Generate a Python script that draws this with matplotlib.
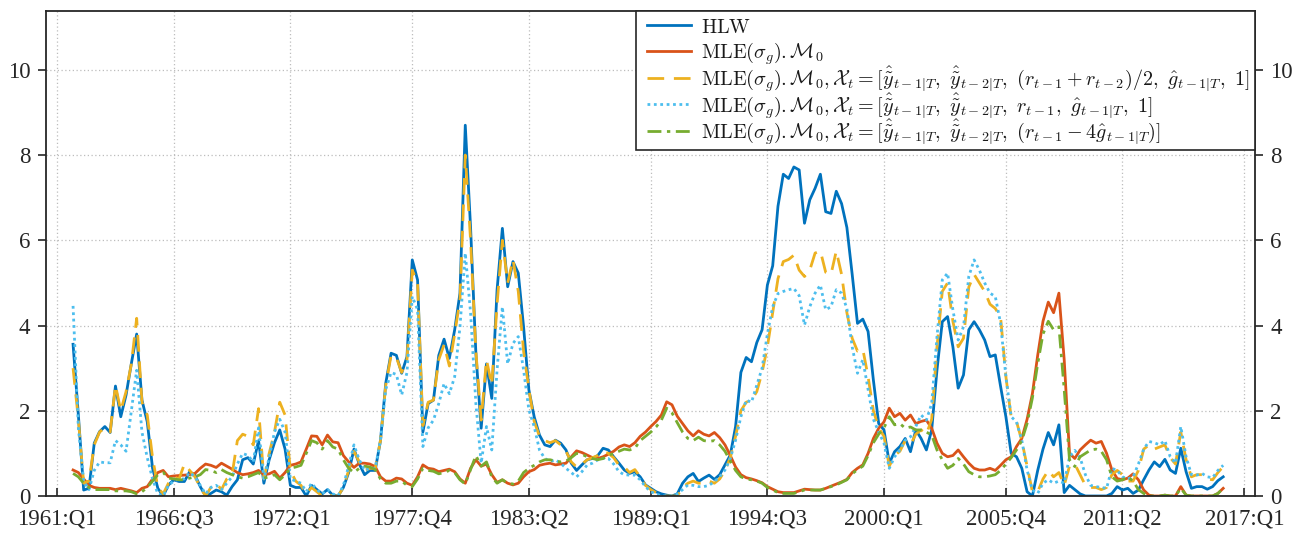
import numpy as np
import matplotlib
matplotlib.use("Agg")
import matplotlib.pyplot as plt
from matplotlib.lines import Line2D
from matplotlib.patches import Rectangle

# quarter index 0 = 1961:Q1 ; data run from 1961:Q4 (idx 3) to 2016:Q1 (idx 220)
start_idx = 3

tick_labels = ["1961:Q1", "1966:Q3", "1972:Q1", "1977:Q4", "1983:Q2", "1989:Q1",
               "1994:Q3", "2000:Q1", "2005:Q4", "2011:Q2", "2017:Q1"]
tick_pos = [0, 22, 44, 67, 89, 112, 134, 156, 179, 201, 224]

hlw = [
    3.56, 1.9, 0.14, 0.18, 1.24, 1.51, 1.63, 1.49, 2.58, 1.86,
    2.37, 3.11, 3.8, 2.25, 1.74, 0.65, 0.18, 0.0, 0.26, 0.38,
    0.34, 0.34, 0.57, 0.49, 0.22, 0.0, 0.06, 0.14, 0.1, 0.02,
    0.22, 0.38, 0.85, 0.9, 0.75, 1.3, 0.3, 0.85, 1.25, 1.55,
    1.1, 0.25, 0.2, 0.2, 0.0, 0.25, 0.15, 0.05, 0.15, 0.02,
    0.0, 0.2, 0.55, 1.1, 0.75, 0.5, 0.6, 0.6, 1.3, 2.65,
    3.35, 3.3, 2.88, 3.27, 5.54, 5.07, 1.5, 2.17, 2.25, 3.3,
    3.68, 3.23, 3.9, 4.76, 8.7, 6.3, 3.35, 1.59, 3.1, 2.29,
    4.84, 6.28, 4.91, 5.5, 5.23, 3.97, 2.49, 1.86, 1.43, 1.2,
    1.16, 1.31, 1.24, 1.08, 0.77, 0.6, 0.73, 0.85, 0.88, 0.95,
    1.12, 1.08, 0.92, 0.77, 0.61, 0.53, 0.57, 0.45, 0.26, 0.18,
    0.1, 0.05, 0.02, 0.0, 0.05, 0.3, 0.45, 0.53, 0.34, 0.42,
    0.49, 0.39, 0.5, 0.73, 0.96, 1.63, 2.9, 3.25, 3.15, 3.6,
    3.9, 4.95, 5.4, 6.8, 7.55, 7.45, 7.72, 7.65, 6.4, 6.95,
    7.22, 7.55, 6.67, 6.63, 7.15, 6.86, 6.3, 5.2, 4.05, 4.15,
    3.86, 2.72, 1.7, 1.55, 0.77, 1.04, 1.16, 1.35, 1.04, 1.55,
    1.35, 1.08, 1.55, 2.96, 4.09, 4.21, 3.5, 2.53, 2.84, 3.9,
    4.09, 3.9, 3.66, 3.27, 3.31, 2.57, 1.86, 1.0, 0.92, 0.65,
    0.1, 0.0, 0.6, 1.1, 1.49, 1.2, 1.67, 0.08, 0.25, 0.15,
    0.05, 0.0, 0.0, 0.0, 0.0, 0.0, 0.06, 0.22, 0.14, 0.18,
    0.06, 0.14, 0.38, 0.61, 0.8, 0.69, 0.86, 0.61, 0.53, 1.12,
    0.57, 0.18, 0.22, 0.22, 0.16, 0.22, 0.36, 0.45,
]

mle_m0 = [
    0.61, 0.55, 0.4, 0.25, 0.2, 0.18, 0.18, 0.18, 0.15, 0.18,
    0.15, 0.12, 0.08, 0.18, 0.22, 0.4, 0.55, 0.6, 0.45, 0.47,
    0.48, 0.49, 0.5, 0.53, 0.65, 0.75, 0.72, 0.67, 0.77, 0.7,
    0.63, 0.55, 0.5, 0.52, 0.55, 0.6, 0.5, 0.52, 0.58, 0.42,
    0.55, 0.72, 0.75, 0.8, 1.1, 1.41, 1.4, 1.2, 1.43, 1.27,
    1.25, 0.95, 0.8, 0.67, 0.77, 0.77, 0.75, 0.69, 0.45, 0.35,
    0.35, 0.42, 0.4, 0.3, 0.25, 0.45, 0.73, 0.65, 0.63, 0.57,
    0.6, 0.63, 0.57, 0.4, 0.3, 0.65, 0.85, 0.7, 0.75, 0.5,
    0.32, 0.38, 0.3, 0.26, 0.3, 0.45, 0.57, 0.62, 0.72, 0.75,
    0.77, 0.73, 0.75, 0.77, 0.92, 1.06, 1.02, 0.96, 0.9, 0.88,
    0.92, 0.98, 1.05, 1.15, 1.2, 1.16, 1.25, 1.4, 1.5, 1.63,
    1.75, 1.9, 2.21, 2.14, 1.87, 1.7, 1.53, 1.41, 1.53, 1.45,
    1.41, 1.49, 1.37, 1.2, 0.95, 0.68, 0.5, 0.43, 0.4, 0.36,
    0.31, 0.22, 0.16, 0.1, 0.08, 0.08, 0.08, 0.12, 0.16, 0.15,
    0.14, 0.14, 0.18, 0.23, 0.28, 0.33, 0.39, 0.55, 0.65, 0.73,
    1.0, 1.35, 1.59, 1.74, 2.06, 1.86, 1.94, 1.78, 1.9, 1.7,
    1.75, 1.78, 1.59, 1.24, 1.0, 0.92, 0.95, 1.08, 0.92, 0.77,
    0.65, 0.61, 0.61, 0.65, 0.6, 0.72, 0.85, 0.92, 1.16, 1.35,
    1.8, 2.4, 3.3, 4.1, 4.55, 4.3, 4.76, 3.2, 1.0, 0.88,
    1.08, 1.2, 1.31, 1.24, 1.28, 1.0, 0.61, 0.41, 0.38, 0.42,
    0.52, 0.38, 0.14, 0.02, 0.0, 0.0, 0.02, 0.0, 0.0, 0.22,
    0.02, 0.0, 0.0, 0.0, 0.0, 0.0, 0.06, 0.18,
]

mle_x_avg = [
    3.0, 1.8, 0.3, 0.35, 1.2, 1.5, 1.6, 1.5, 2.6, 2.0,
    2.45, 3.1, 4.17, 2.2, 1.9, 0.9, 0.2, 0.05, 0.3, 0.45,
    0.4, 0.75, 0.6, 0.45, 0.2, 0.0, 0.2, 0.3, 0.15, 0.4,
    0.5, 1.3, 1.45, 1.4, 1.2, 2.05, 0.4, 1.0, 1.5, 2.2,
    1.9, 0.6, 0.35, 0.25, 0.05, 0.2, 0.1, 0.0, 0.05, 0.0,
    0.0, 0.2, 0.6, 1.05, 0.8, 0.6, 0.65, 0.65, 1.3, 2.6,
    3.3, 3.25, 2.9, 3.2, 5.3, 5.0, 1.65, 2.2, 2.25, 3.2,
    3.55, 3.05, 3.8, 4.6, 8.0, 6.0, 3.4, 1.78, 3.2, 2.6,
    4.5, 6.0, 5.0, 5.55, 4.8, 3.4, 2.5, 1.75, 1.4, 1.3,
    1.25, 1.3, 1.2, 1.05, 0.8, 0.68, 0.75, 0.85, 0.9, 0.95,
    1.05, 1.0, 0.9, 0.72, 0.68, 0.55, 0.62, 0.45, 0.25, 0.15,
    0.08, 0.0, 0.0, 0.0, 0.0, 0.2, 0.3, 0.35, 0.3, 0.3,
    0.35, 0.3, 0.4, 0.6, 0.9, 1.4, 2.0, 2.2, 2.25, 2.45,
    2.9, 3.5, 4.3, 5.1, 5.5, 5.55, 5.65, 5.3, 5.15, 5.3,
    5.7, 5.75, 5.25, 5.2, 5.75, 5.2, 4.3, 3.7, 3.4, 3.45,
    2.8, 2.0, 1.6, 1.4, 0.7, 0.95, 1.05, 1.3, 1.2, 1.45,
    1.55, 1.45, 1.8, 3.5, 4.8, 5.0, 4.1, 3.5, 3.7, 4.9,
    5.2, 5.0, 4.8, 4.5, 4.4, 4.2, 2.8, 1.85, 1.75, 1.3,
    0.7, 0.1, 0.1, 0.4, 0.6, 0.45, 0.55, 0.25, 0.7, 0.75,
    0.5, 0.25, 0.2, 0.2, 0.15, 0.2, 0.5, 0.6, 0.5, 0.35,
    0.35, 0.6, 1.1, 1.2, 1.1, 1.15, 1.2, 0.9, 0.75, 1.5,
    0.85, 0.45, 0.5, 0.5, 0.4, 0.38, 0.55, 0.69,
]

mle_x_r1 = [
    4.46, 1.6, 0.35, 0.15, 0.6, 0.8, 0.78, 0.78, 1.3, 1.2,
    1.05, 2.0, 2.95, 1.5, 0.9, 0.4, 0.05, 0.0, 0.25, 0.35,
    0.4, 0.4, 0.55, 0.45, 0.25, 0.05, 0.2, 0.25, 0.15, 0.3,
    0.45, 0.75, 1.0, 0.95, 0.8, 1.6, 0.4, 0.9, 1.5, 1.8,
    1.5, 0.4, 0.35, 0.3, 0.1, 0.3, 0.15, 0.05, 0.15, 0.05,
    0.0, 0.25, 0.7, 1.2, 0.85, 0.6, 0.65, 0.65, 1.3, 2.5,
    2.9, 2.85, 2.37, 2.9, 4.68, 4.37, 1.16, 1.6, 1.78, 2.17,
    2.64, 2.4, 2.8, 3.97, 5.7, 4.3, 2.17, 0.77, 1.63, 1.08,
    2.96, 4.44, 3.1, 3.58, 3.74, 2.96, 2.02, 1.63, 1.08, 0.88,
    0.81, 0.85, 0.77, 0.65, 0.55, 0.45, 0.57, 0.73, 0.77, 0.85,
    0.88, 0.88, 0.75, 0.57, 0.5, 0.49, 0.49, 0.38, 0.22, 0.1,
    0.05, 0.0, 0.0, 0.0, 0.05, 0.15, 0.26, 0.25, 0.22, 0.22,
    0.25, 0.34, 0.45, 0.61, 0.88, 1.31, 1.86, 2.25, 2.2, 2.6,
    3.0, 3.8, 4.44, 4.75, 4.8, 4.84, 4.87, 4.7, 4.01, 4.44,
    4.76, 4.95, 4.37, 4.44, 4.84, 4.76, 4.4, 3.5, 2.88, 3.2,
    2.5, 1.8, 1.5, 1.24, 0.65, 0.92, 1.08, 1.31, 1.39, 1.63,
    1.9, 1.78, 2.17, 3.74, 5.07, 5.23, 4.37, 3.66, 3.97, 5.15,
    5.54, 5.3, 5.0, 4.76, 4.68, 4.05, 2.8, 1.86, 1.74, 1.31,
    0.61, 0.14, 0.06, 0.3, 0.38, 0.3, 0.35, 0.3, 0.92, 1.07,
    0.9, 0.5, 0.25, 0.22, 0.2, 0.18, 0.65, 0.6, 0.45, 0.4,
    0.45, 0.75, 1.1, 1.28, 1.25, 1.2, 1.3, 0.92, 0.77, 1.63,
    0.92, 0.5, 0.49, 0.53, 0.45, 0.43, 0.6, 0.72,
]

mle_x_diff = [
    0.53, 0.45, 0.3, 0.2, 0.15, 0.15, 0.15, 0.15, 0.12, 0.12,
    0.12, 0.1, 0.05, 0.1, 0.2, 0.35, 0.5, 0.55, 0.42, 0.4,
    0.38, 0.38, 0.42, 0.45, 0.5, 0.62, 0.6, 0.55, 0.62, 0.55,
    0.5, 0.45, 0.42, 0.45, 0.5, 0.55, 0.42, 0.45, 0.5, 0.38,
    0.5, 0.65, 0.68, 0.72, 1.0, 1.3, 1.25, 1.1, 1.3, 1.15,
    1.1, 0.85, 0.65, 0.55, 0.65, 0.7, 0.68, 0.62, 0.4, 0.3,
    0.3, 0.35, 0.35, 0.25, 0.22, 0.4, 0.65, 0.6, 0.58, 0.52,
    0.55, 0.6, 0.55, 0.38, 0.28, 0.62, 0.95, 0.7, 0.8, 0.45,
    0.3, 0.38, 0.3, 0.28, 0.35, 0.55, 0.65, 0.72, 0.8, 0.85,
    0.85, 0.82, 0.8, 0.82, 0.9, 1.0, 0.98, 0.92, 0.88, 0.85,
    0.88, 0.95, 1.0, 1.05, 1.1, 1.08, 1.12, 1.3, 1.4, 1.5,
    1.62, 1.78, 2.06, 1.95, 1.72, 1.5, 1.35, 1.3, 1.38, 1.3,
    1.28, 1.3, 1.2, 1.05, 0.82, 0.6, 0.45, 0.4, 0.38, 0.35,
    0.3, 0.2, 0.14, 0.08, 0.06, 0.06, 0.06, 0.1, 0.14, 0.14,
    0.14, 0.14, 0.18, 0.22, 0.26, 0.32, 0.38, 0.52, 0.62, 0.7,
    0.95, 1.25, 1.45, 1.6, 1.86, 1.67, 1.7, 1.59, 1.62, 1.55,
    1.55, 1.5, 1.43, 1.08, 0.85, 0.65, 0.72, 0.88, 0.75, 0.57,
    0.5, 0.45, 0.45, 0.47, 0.5, 0.6, 0.75, 0.9, 1.08, 1.3,
    1.7, 2.3, 3.1, 3.8, 4.1, 3.9, 3.97, 2.5, 0.85, 0.69,
    0.92, 1.0, 1.08, 1.1, 1.05, 0.85, 0.45, 0.35, 0.38, 0.45,
    0.35, 0.15, 0.06, 0.0, 0.0, 0.0, 0.02, 0.0, 0.0, 0.18,
    0.02, 0.0, 0.0, 0.0, 0.0, 0.0, 0.06, 0.18,
]

labels = [
    r"$\mathrm{HLW}$",
    r"$\mathrm{MLE}(\sigma_g).\mathcal{M}_0$",
    r"$\mathrm{MLE}(\sigma_g).\mathcal{M}_0,\mathcal{X}_t=[\hat{\tilde{y}}_{t-1|T},\ \hat{\tilde{y}}_{t-2|T},\ (r_{t-1}+r_{t-2})/2,\ \hat{g}_{t-1|T},\ 1]$",
    r"$\mathrm{MLE}(\sigma_g).\mathcal{M}_0,\mathcal{X}_t=[\hat{\tilde{y}}_{t-1|T},\ \hat{\tilde{y}}_{t-2|T},\ r_{t-1},\ \hat{g}_{t-1|T},\ 1]$",
    r"$\mathrm{MLE}(\sigma_g).\mathcal{M}_0,\mathcal{X}_t=[\hat{\tilde{y}}_{t-1|T},\ \hat{\tilde{y}}_{t-2|T},\ (r_{t-1}-4\hat{g}_{t-1|T})]$",
]

plt.rcParams["font.family"] = ["Liberation Serif", "DejaVu Serif"]
plt.rcParams["mathtext.fontset"] = "cm"

W, H = 1308, 535
fig = plt.figure(figsize=(W / 100, H / 100), dpi=100)
ax = fig.add_axes([45.5 / W, 1 - 496 / H, (1255 - 45.5) / W, (496 - 11) / H])

x = np.arange(start_idx, start_idx + len(hlw))
lw = 2.0
styles = [
    dict(color="#0072BD", ls="-"),
    dict(color="#D95319", ls="-"),
    dict(color="#EDB120", ls=(0, (6, 3.5))),
    dict(color="#4DBEEE", ls=(0, (1, 1.3))),
    dict(color="#77AC30", ls=(0, (5, 2, 1.2, 2))),
]
series = [hlw, mle_m0, mle_x_avg, mle_x_r1, mle_x_diff]
for s, st in zip(series, styles):
    ax.plot(x, s, lw=lw, **st)

ax.set_xlim(-2.2, 226)
ax.set_ylim(0, 11.38)
ax.set_xticks(tick_pos)
ax.set_xticklabels(tick_labels)
ax.set_yticks([0, 2, 4, 6, 8, 10])

ax.grid(True, color="#bdbdbd", ls=(0, (1, 2)), lw=0.9)
ax.set_axisbelow(True)
for s in ax.spines.values():
    s.set_color("#262626")
    s.set_linewidth(1.3)

ax.tick_params(axis="y", which="both", direction="out", length=6, width=1.2,
               labelsize=16.5, left=True, right=True, labelleft=True, labelright=True,
               colors="#262626", pad=5)
ax.tick_params(axis="x", direction="in", length=6, width=1.2, labelsize=16.5,
               top=False, colors="#262626", pad=9)

# legend box drawn in figure pixel coordinates (matches MATLAB legend layout)
def fx(px):
    return px / W

def fy(py):
    return 1 - py / H

box = Rectangle((fx(636), fy(150)), fx(1255) - fx(636), fy(11) - fy(150),
                transform=fig.transFigure, facecolor="white", edgecolor="#262626",
                lw=1.2, zorder=10)
fig.patches.append(box)
row_line = [25, 51, 78, 104, 131]
row_base = [33, 59, 86, 112.5, 139]
for i, st in enumerate(styles):
    fig.add_artist(Line2D([fx(647), fx(691)], [fy(row_line[i])] * 2, lw=lw,
                          transform=fig.transFigure, zorder=11, **st))
    fig.text(fx(701), fy(row_base[i]), labels[i], fontsize=14.5, va="baseline",
             ha="left", color="#1a1a1a", zorder=12)

fig.savefig("out.png", dpi=100)
